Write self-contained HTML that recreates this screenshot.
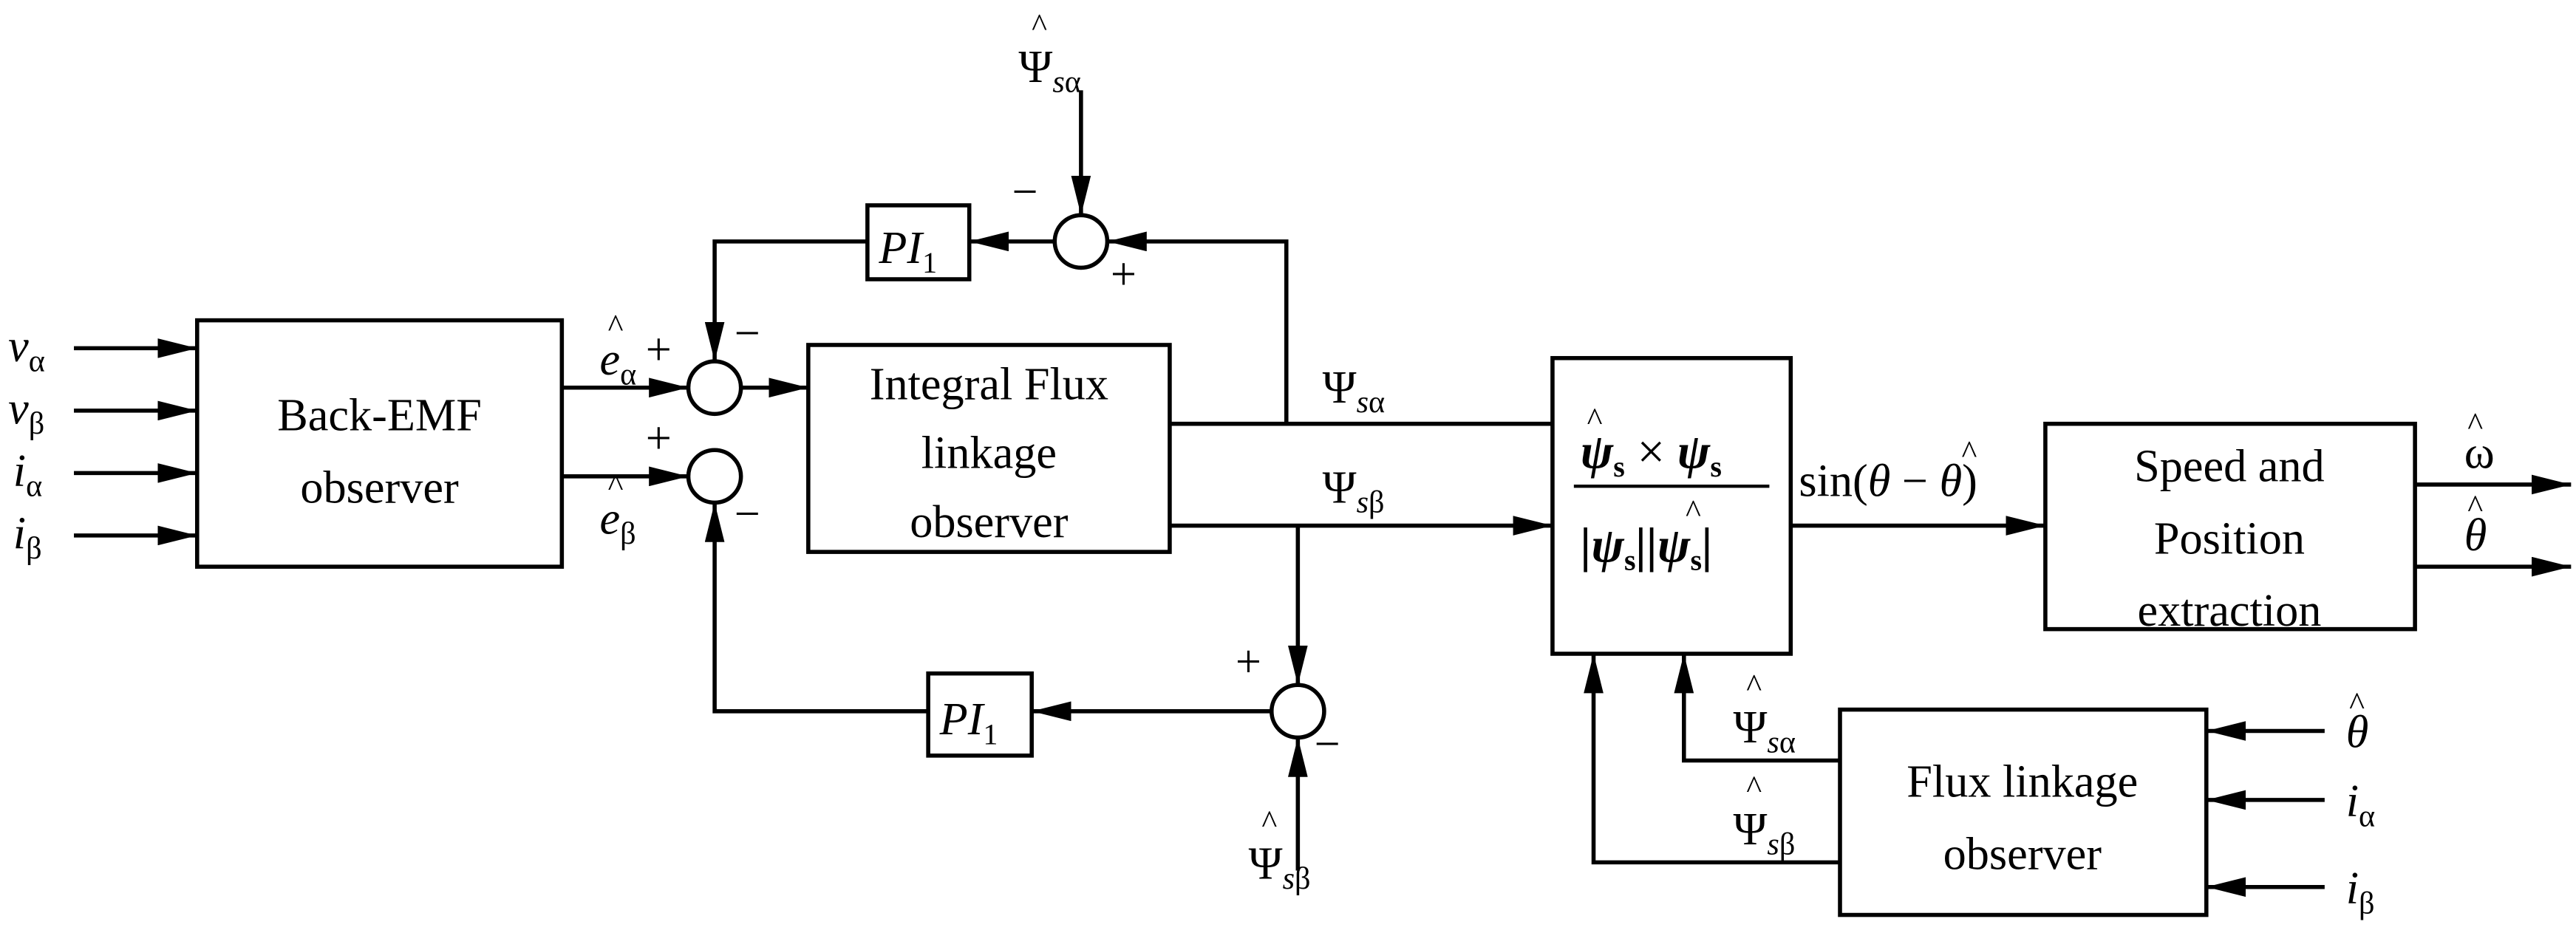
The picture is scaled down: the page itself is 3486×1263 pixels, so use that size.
<!DOCTYPE html>
<html><head><meta charset="utf-8"><style>
html,body{margin:0;padding:0;background:#fff;}
svg{display:block;}
text{font-family:"Liberation Serif",serif;fill:#000;}
</style></head><body>
<svg width="3486" height="1263" viewBox="0 0 1568 568" preserveAspectRatio="none" xmlns="http://www.w3.org/2000/svg">
<defs>
<marker id="b" viewBox="0 0 24 12" markerWidth="24" markerHeight="12" refX="24" refY="6" orient="auto" markerUnits="userSpaceOnUse"><path d="M0,0 L24,6 L0,12 z"/></marker>
</defs>
<g stroke="#000" stroke-width="2.5" fill="none">
<rect x="120" y="195" width="222" height="150"/>
<rect x="492" y="210" width="220" height="126"/>
<rect x="945" y="218" width="145" height="180"/>
<rect x="1245" y="258" width="225" height="125"/>
<rect x="1120" y="432" width="223" height="125"/>
<rect x="528" y="125" width="62" height="45"/>
<rect x="565" y="410" width="63" height="50"/>
<circle cx="435" cy="236" r="16"/>
<circle cx="435" cy="290" r="16"/>
<circle cx="658" cy="147" r="16"/>
<circle cx="790" cy="433" r="16"/>
<line x1="45" y1="212" x2="120" y2="212" marker-end="url(#b)"/>
<line x1="45" y1="250" x2="120" y2="250" marker-end="url(#b)"/>
<line x1="45" y1="288" x2="120" y2="288" marker-end="url(#b)"/>
<line x1="45" y1="326" x2="120" y2="326" marker-end="url(#b)"/>
<line x1="342" y1="236" x2="419" y2="236" marker-end="url(#b)"/>
<line x1="342" y1="290" x2="419" y2="290" marker-end="url(#b)"/>
<line x1="451" y1="236" x2="492" y2="236" marker-end="url(#b)"/>
<line x1="712" y1="258" x2="945" y2="258"/>
<line x1="712" y1="320" x2="945" y2="320" marker-end="url(#b)"/>
<polyline points="783,258 783,147 674,147" marker-end="url(#b)"/>
<line x1="658" y1="55" x2="658" y2="131" marker-end="url(#b)"/>
<line x1="642" y1="147" x2="590" y2="147" marker-end="url(#b)"/>
<polyline points="528,147 435,147 435,220" marker-end="url(#b)"/>
<line x1="790" y1="320" x2="790" y2="417" marker-end="url(#b)"/>
<line x1="790" y1="530" x2="790" y2="449" marker-end="url(#b)"/>
<line x1="774" y1="433" x2="628" y2="433" marker-end="url(#b)"/>
<polyline points="565,433 435,433 435,306" marker-end="url(#b)"/>
<line x1="1090" y1="320" x2="1245" y2="320" marker-end="url(#b)"/>
<line x1="1470" y1="295" x2="1565" y2="295" marker-end="url(#b)"/>
<line x1="1470" y1="345" x2="1565" y2="345" marker-end="url(#b)"/>
<line x1="1415" y1="445" x2="1343" y2="445" marker-end="url(#b)"/>
<line x1="1415" y1="487" x2="1343" y2="487" marker-end="url(#b)"/>
<line x1="1415" y1="540" x2="1343" y2="540" marker-end="url(#b)"/>
<polyline points="1120,463 1025,463 1025,398" marker-end="url(#b)"/>
<polyline points="1120,525 970,525 970,398" marker-end="url(#b)"/>
<line x1="958" y1="296" x2="1077" y2="296" stroke-width="2"/>
</g>
<g font-size="28">
<text x="231" y="262" text-anchor="middle">Back-EMF</text>
<text x="231" y="306" text-anchor="middle">observer</text>
<text x="602" y="243" text-anchor="middle">Integral Flux</text>
<text x="602" y="285" text-anchor="middle">linkage</text>
<text x="602" y="327" text-anchor="middle">observer</text>
<text x="1357" y="293" text-anchor="middle">Speed and</text>
<text x="1357" y="337" text-anchor="middle">Position</text>
<text x="1357" y="381" text-anchor="middle">extraction</text>
<text x="1231" y="485" text-anchor="middle">Flux linkage</text>
<text x="1231" y="529" text-anchor="middle">observer</text>
<text x="535" y="160" font-style="italic">PI<tspan font-size="18" font-style="normal" dy="6">1</tspan></text>
<text x="572" y="447" font-style="italic">PI<tspan font-size="18" font-style="normal" dy="6">1</tspan></text>
<text x="5" y="220" font-style="italic">v<tspan font-size="19" font-style="normal" dy="6">α</tspan></text>
<text x="5" y="258" font-style="italic">v<tspan font-size="19" font-style="normal" dy="6">β</tspan></text>
<text x="8" y="296" font-style="italic">i<tspan font-size="19" font-style="normal" dy="6">α</tspan></text>
<text x="8" y="334" font-style="italic">i<tspan font-size="19" font-style="normal" dy="6">β</tspan></text>
<text x="365" y="228" font-style="italic">e<tspan font-size="19" font-style="normal" dy="6">α</tspan></text>
<text x="370" y="205" font-size="20">^</text>
<text x="365" y="325" font-style="italic">e<tspan font-size="19" font-style="normal" dy="6">β</tspan></text>
<text x="370" y="302" font-size="20">^</text>
<text x="393" y="222">+</text><text x="447" y="212">−</text>
<text x="393" y="276">+</text><text x="447" y="322">−</text>
<text x="616" y="126">−</text><text x="676" y="176">+</text>
<text x="752" y="412">+</text><text x="800" y="462">−</text>
<text x="805" y="245">Ψ<tspan font-size="19" font-style="italic" dy="6">s</tspan><tspan font-size="19">α</tspan></text>
<text x="805" y="306">Ψ<tspan font-size="19" font-style="italic" dy="6">s</tspan><tspan font-size="19">β</tspan></text>
<text x="620" y="50">Ψ<tspan font-size="19" font-style="italic" dy="6">s</tspan><tspan font-size="19">α</tspan></text>
<text x="628" y="22" font-size="20">^</text>
<text x="760" y="535">Ψ<tspan font-size="19" font-style="italic" dy="6">s</tspan><tspan font-size="19">β</tspan></text>
<text x="768" y="507" font-size="20">^</text>
<text x="1055" y="452">Ψ<tspan font-size="19" font-style="italic" dy="6">s</tspan><tspan font-size="19">α</tspan></text>
<text x="1063" y="424" font-size="20">^</text>
<text x="1055" y="514">Ψ<tspan font-size="19" font-style="italic" dy="6">s</tspan><tspan font-size="19">β</tspan></text>
<text x="1063" y="486" font-size="20">^</text>
<text x="962" y="285" font-weight="bold" font-style="italic" font-size="30">ψ<tspan font-size="18" font-style="normal" dy="5">s</tspan><tspan dy="-5" font-weight="normal" font-style="normal"> × </tspan>ψ<tspan font-size="18" font-style="normal" dy="5">s</tspan></text>
<text x="966" y="262" font-size="20">^</text>
<text x="962" y="342" font-weight="bold" font-style="italic" font-size="30">|ψ<tspan font-size="18" font-style="normal" dy="5">s</tspan><tspan dy="-5">||ψ</tspan><tspan font-size="18" font-style="normal" dy="5">s</tspan><tspan dy="-5">|</tspan></text>
<text x="1026" y="318" font-size="20">^</text>
<text x="1095" y="302">sin(<tspan font-style="italic">θ</tspan> − <tspan font-style="italic">θ</tspan>)</text>
<text x="1194" y="282" font-size="20">^</text>
<text x="1500" y="285">ω</text>
<text x="1502" y="265" font-size="20">^</text>
<text x="1500" y="335" font-style="italic">θ</text>
<text x="1502" y="315" font-size="20">^</text>
<text x="1428" y="455" font-style="italic">θ</text>
<text x="1430" y="435" font-size="20">^</text>
<text x="1428" y="497" font-style="italic">i<tspan font-size="19" font-style="normal" dy="6">α</tspan></text>
<text x="1428" y="550" font-style="italic">i<tspan font-size="19" font-style="normal" dy="6">β</tspan></text>
</g>
</svg>
</body></html>
